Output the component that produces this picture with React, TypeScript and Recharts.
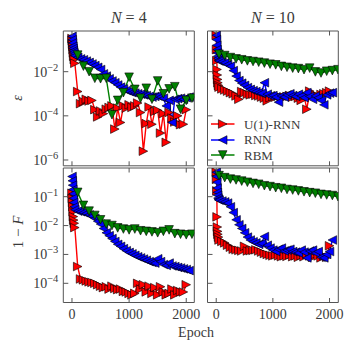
import { LineChart, Line, XAxis, YAxis, Legend } from 'recharts'

const W = 354
const H = 351
const SERIF = '"Liberation Serif", "DejaVu Serif", serif'
const INK = '#3a3a3a'
const FRAME = '#555555'
const RED = '#ff0000'
const BLUE = '#0000ff'
const GREEN = '#008000'
const R = 4.3 // half marker size

// x values (epochs)
const epochsU1 = [0, 5, 10, 15, 20, 25, 30, 40, 50, 100, 150, 200, 250, 300, 350, 400, 450, 500, 550, 600, 650, 700, 750, 800, 850, 900, 950, 1000, 1050, 1100, 1150, 1200, 1250, 1300, 1350, 1400, 1450, 1500, 1550, 1600, 1650, 1700, 1750, 1800, 1850, 1900, 1950, 2000]
const epochsRnn = [0, 5, 10, 15, 20, 25, 30, 40, 50, 100, 150, 200, 250, 300, 350, 400, 450, 500, 550, 600, 650, 700, 750, 800, 850, 900, 950, 1000, 1050, 1100, 1150, 1200, 1250, 1300, 1350, 1400, 1450, 1500, 1550, 1600, 1650, 1700, 1750, 1800, 1850, 1900, 1950, 2000, 2050]
const epochsRbmN4 = [100, 200, 300, 400, 500, 600, 700, 800, 900, 1000, 1100, 1200, 1300, 1400, 1500, 1600, 1700, 1800, 1900, 2000, 2100]
const epochsRbmN10 = [50, 150, 250, 350, 450, 550, 650, 750, 850, 950, 1050, 1150, 1250, 1350, 1450, 1550, 1650, 1750, 1850, 1950, 2050, 2150]

// log10 of the error epsilon
const epsU1N4 = [-0.5, -0.6, -0.75, -0.85, -1.0, -1.15, -1.3, -1.45, -1.62, -2.9, -3.45, -3.35, -3.25, -3.33, -3.3, -3.72, -4.05, -3.78, -3.9, -3.7, -3.62, -3.55, -4.6, -3.65, -4.3, -3.55, -3.65, -3.5, -3.62, -3.55, -3.42, -3.85, -5.6, -4.35, -3.6, -4.38, -3.8, -3.75, -4.78, -3.9, -5.2, -3.85, -4.1, -4.28, -4.0, -4.4, -4.38, -3.72]
const epsRnnN4 = [-0.4, -0.55, -0.7, -0.85, -0.95, -1.05, -1.12, -1.2, -1.28, -1.35, -1.42, -1.46, -1.52, -1.58, -1.65, -1.72, -1.8, -1.9, -2.1, -2.2, -2.32, -2.42, -2.5, -2.6, -2.7, -2.78, -2.85, -2.9, -2.95, -2.97, -3.0, -3.02, -3.05, -3.08, -3.12, -3.15, -3.12, -3.1, -3.15, -3.2, -3.55, -3.3, -4.3, -3.25, -3.22, -3.2, -3.25, -3.18, -3.15]
const epsRbmN4 = [-1.25, -1.75, -2.0, -2.3, -2.32, -2.3, -3.95, -3.3, -2.95, -2.25, -2.8, -3.2, -2.75, -3.25, -2.42, -3.0, -2.78, -2.68, -3.7, -3.3, -3.2]
const epsU1N10 = [-0.35, -1.0, -1.5, -1.9, -2.15, -2.35, -2.5, -2.62, -2.7, -2.78, -2.83, -2.88, -2.95, -3.0, -3.1, -3.25, -2.9, -2.95, -3.02, -3.05, -3.02, -3.08, -3.1, -3.15, -3.2, -3.32, -3.18, -3.12, -3.15, -3.1, -3.18, -3.15, -3.12, -3.08, -3.15, -3.12, -3.2, -3.3, -3.1, -3.7, -2.88, -3.08, -3.05, -3.12, -3.03, -3.0, -2.95, -2.88]
const epsRnnN10 = [-0.35, -0.55, -0.8, -1.0, -1.15, -1.3, -1.4, -1.48, -1.52, -1.55, -1.6, -1.68, -1.75, -1.95, -2.2, -2.4, -2.52, -2.62, -2.72, -2.8, -2.86, -2.9, -2.95, -2.98, -2.5, -3.02, -3.1, -3.08, -3.15, -3.38, -3.1, -3.15, -3.05, -3.0, -3.08, -3.12, -3.02, -3.1, -3.18, -2.95, -3.12, -3.25, -3.1, -3.18, -3.3, -3.5, -3.05, -2.97, -2.95]
const epsRbmN10 = [-1.21, -1.27, -1.36, -1.42, -1.46, -1.51, -1.54, -1.57, -1.61, -1.66, -1.69, -1.76, -1.8, -1.84, -1.86, -1.91, -1.84, -2.01, -2.06, -1.98, -1.95, -1.91]

// log10 of the infidelity 1 - F
const infU1N4 = [-0.88, -1.06, -1.2, -1.35, -1.52, -1.69, -1.81, -1.92, -2.07, -3.42, -3.85, -3.88, -3.92, -3.95, -3.97, -4.0, -4.05, -4.1, -4.15, -4.12, -4.2, -4.1, -4.18, -4.22, -4.2, -4.28, -4.3, -4.35, -4.4, -4.35, -4.0, -4.2, -4.05, -4.3, -4.1, -4.35, -4.15, -4.4, -4.12, -4.3, -4.4, -4.35, -4.2, -4.4, -4.25, -4.3, -4.3, -4.05]
const infRnnN4 = [-0.3, -0.45, -0.6, -0.75, -0.9, -1.05, -1.2, -1.35, -1.45, -1.5, -1.52, -1.55, -1.58, -1.63, -1.68, -1.75, -1.85, -1.95, -2.1, -2.25, -2.35, -2.45, -2.55, -2.65, -2.72, -2.8, -2.87, -2.93, -2.98, -3.03, -3.08, -3.12, -3.16, -3.2, -3.25, -3.28, -3.3, -3.15, -3.25, -3.35, -3.38, -3.3, -3.4, -3.42, -3.45, -3.47, -3.5, -3.52, -3.56]
const infRbmN4 = [-0.85, -1.3, -1.5, -1.65, -1.8, -1.95, -2.0, -2.08, -2.12, -2.15, -2.12, -2.18, -2.2, -2.22, -2.25, -2.2, -2.15, -2.28, -2.3, -2.32, -2.3]
const infU1N10 = [-0.15, -0.4, -0.8, -1.7, -2.05, -2.2, -2.3, -2.4, -2.5, -2.55, -2.6, -2.68, -2.75, -2.82, -2.84, -2.86, -2.88, -2.72, -2.88, -2.87, -2.86, -2.84, -2.88, -2.92, -2.97, -3.0, -3.03, -3.05, -3.02, -3.05, -3.08, -3.05, -3.07, -3.02, -3.08, -3.05, -3.1, -3.04, -3.08, -3.0, -3.05, -3.1, -3.0, -3.05, -3.12, -3.05, -3.1, -2.7]
const infRnnN10 = [-0.15, -0.3, -0.5, -0.7, -0.85, -0.95, -1.05, -1.1, -1.12, -1.15, -1.18, -1.22, -1.35, -1.55, -1.8, -1.97, -2.1, -2.25, -2.4, -2.5, -2.56, -2.6, -2.65, -2.62, -2.38, -2.68, -2.78, -2.85, -2.9, -2.82, -2.78, -2.88, -2.85, -2.82, -2.9, -2.92, -2.95, -2.85, -2.92, -3.12, -2.88, -2.85, -2.95, -2.9, -3.1, -3.12, -3.0, -2.9, -2.5]
const infRbmN10 = [-0.27, -0.34, -0.39, -0.42, -0.46, -0.5, -0.54, -0.57, -0.62, -0.65, -0.69, -0.71, -0.75, -0.77, -0.8, -0.83, -0.86, -0.88, -0.92, -0.94, -0.96, -1.0]

const xTicks = [0, 1000, 2000]
const epsTicks = [1e-6, 1e-4, 1e-2]
const infTicks = [1e-4, 1e-3, 1e-2, 1e-1]

type Shape = 'right' | 'left' | 'down'
const SHAPES: Record<string, Shape> = { 'U(1)-RNN': 'right', RNN: 'left', RBM: 'down' }
const LEGEND_ORDER = ['U(1)-RNN', 'RNN', 'RBM']

const pts = (xs: number[], logs: number[]) => logs.map((v, i) => ({ epoch: xs[i], value: Math.pow(10, v) }))

function tri(cx: number, cy: number, shape: Shape, r: number) {
  if (shape === 'right') return `M${cx + r},${cy}L${cx - r},${cy - r}L${cx - r},${cy + r}Z`
  if (shape === 'left') return `M${cx - r},${cy}L${cx + r},${cy - r}L${cx + r},${cy + r}Z`
  return `M${cx},${cy + r}L${cx - r},${cy - r}L${cx + r},${cy - r}Z`
}

const makeDot = (color: string, shape: Shape) => (p: any) => {
  if (p.cx == null || p.cy == null || isNaN(p.cx) || isNaN(p.cy)) return <g key={p.index} />
  return <path key={p.index} d={tri(p.cx, p.cy, shape, R)} fill={color} stroke="#000" strokeWidth={0.6} />
}

const xTick = (dir: number, showLabel: boolean) => (p: any) => (
  <g>
    <line x1={p.x} x2={p.x} y1={p.y} y2={p.y + dir * 4.5} stroke={FRAME} strokeWidth={1} />
    {showLabel && (
      <text x={p.x} y={p.y + 16} textAnchor="middle" fontFamily={SERIF} fontSize={14} fill={INK}>
        {p.payload.value}
      </text>
    )}
  </g>
)

const yTick = (showLabel: boolean) => (p: any) => {
  const exp = Math.round(Math.log10(p.payload.value))
  return (
    <g>
      <line x1={p.x} x2={p.x + 5} y1={p.y} y2={p.y} stroke={FRAME} strokeWidth={1} />
      {showLabel && (
        <text x={p.x - 5} y={p.y + 5} textAnchor="end" fontFamily={SERIF} fontSize={14} fill={INK}>
          10<tspan dy={-6} fontSize={10.5}>{'\u2212' + Math.abs(exp)}</tspan>
        </text>
      )}
    </g>
  )
}

function LegendBox({ payload }: any) {
  const items = [...(payload || [])].sort((a: any, b: any) => LEGEND_ORDER.indexOf(a.value) - LEGEND_ORDER.indexOf(b.value))
  return (
    <div style={{ fontFamily: SERIF, fontSize: 13, color: INK }}>
      {items.map((e: any) => (
        <div key={e.value} style={{ display: 'flex', alignItems: 'center', height: 15.5 }}>
          <svg width={33} height={12} style={{ flex: 'none' }}>
            <line x1={0} x2={23.5} y1={6} y2={6} stroke={e.color} strokeWidth={1.5} />
            <path d={tri(11.7, 6, SHAPES[e.value], R)} fill={e.color} stroke="#000" strokeWidth={0.6} />
          </svg>
          <span style={{ lineHeight: '15.5px', whiteSpace: 'nowrap' }}>{e.value}</span>
        </div>
      ))}
    </div>
  )
}

interface Series { name: string; color: string; data: { epoch: number; value: number }[] }
interface Box { l: number; t: number; r: number; b: number }

// axes need a positive size to be drawn, so they get 1px and the margins shrink by 1px
const AX = 1

function Panel({ box, xDomain, yDomain, yTicks, xLabels, yLabels, series, legend }: {
  box: Box; xDomain: number[]; yDomain: number[]; yTicks: number[]; xLabels: boolean; yLabels: boolean; series: Series[]; legend?: boolean
}) {
  const margin = { left: box.l - AX, top: box.t - AX, right: W - box.r - AX, bottom: H - box.b - AX }
  return (
    <div style={{ position: 'absolute', left: 0, top: 0 }}>
      <LineChart width={W} height={H} margin={margin}>
        <XAxis xAxisId="b" type="number" dataKey="epoch" domain={xDomain} allowDataOverflow ticks={xTicks} interval={0}
          height={AX} tickSize={0} tickMargin={0} tickLine={false} axisLine={{ stroke: FRAME }} tick={xTick(-1, xLabels)} />
        <XAxis xAxisId="t" orientation="top" type="number" dataKey="epoch" domain={xDomain} allowDataOverflow ticks={xTicks} interval={0}
          height={AX} tickSize={0} tickMargin={0} tickLine={false} axisLine={{ stroke: FRAME }} tick={xTick(1, false)} />
        <YAxis yAxisId="l" type="number" scale="log" domain={yDomain} allowDataOverflow ticks={yTicks} interval={0}
          width={AX} tickSize={0} tickMargin={0} tickLine={false} axisLine={{ stroke: FRAME }} tick={yTick(yLabels)} />
        <YAxis yAxisId="r" orientation="right" type="number" scale="log" domain={yDomain} allowDataOverflow
          width={AX} tick={false} tickLine={false} axisLine={{ stroke: FRAME }} />
        {series.map((s) => (
          <Line key={s.name} name={s.name} data={s.data} dataKey="value" xAxisId="b" yAxisId="l" type="linear"
            stroke={s.color} strokeWidth={1.4} dot={makeDot(s.color, SHAPES[s.name])} activeDot={false}
            isAnimationActive={false} />
        ))}
        {legend && (
          <Legend layout="vertical" align="center" verticalAlign="middle" content={<LegendBox />}
            wrapperStyle={{ left: 211, top: 116.5, width: 'auto' }} />
        )}
      </LineChart>
    </div>
  )
}

const TL: Box = { l: 63.3, t: 31, r: 194.3, b: 165.8 }
const TR: Box = { l: 207.5, t: 31, r: 338.3, b: 165.8 }
const BL: Box = { l: 63.3, t: 168, r: 194.3, b: 302.5 }
const BR: Box = { l: 207.5, t: 168, r: 338.3, b: 302.5 }
const xDomL = [-152, 2141]
const xDomR = [-154, 2155]
const epsDom = [Math.pow(10, -6.263), Math.pow(10, -0.157)]
const infDom = [Math.pow(10, -4.665), Math.pow(10, -0.006)]

export default function App() {
  const epsN4: Series[] = [
    { name: 'U(1)-RNN', color: RED, data: pts(epochsU1, epsU1N4) },
    { name: 'RNN', color: BLUE, data: pts(epochsRnn, epsRnnN4) },
    { name: 'RBM', color: GREEN, data: pts(epochsRbmN4, epsRbmN4) },
  ]
  const epsN10: Series[] = [
    { name: 'U(1)-RNN', color: RED, data: pts(epochsU1, epsU1N10) },
    { name: 'RNN', color: BLUE, data: pts(epochsRnn, epsRnnN10) },
    { name: 'RBM', color: GREEN, data: pts(epochsRbmN10, epsRbmN10) },
  ]
  const infN4: Series[] = [
    { name: 'U(1)-RNN', color: RED, data: pts(epochsU1, infU1N4) },
    { name: 'RNN', color: BLUE, data: pts(epochsRnn, infRnnN4) },
    { name: 'RBM', color: GREEN, data: pts(epochsRbmN4, infRbmN4) },
  ]
  const infN10: Series[] = [
    { name: 'U(1)-RNN', color: RED, data: pts(epochsU1, infU1N10) },
    { name: 'RNN', color: BLUE, data: pts(epochsRnn, infRnnN10) },
    { name: 'RBM', color: GREEN, data: pts(epochsRbmN10, infRbmN10) },
  ]

  return (
    <div style={{ position: 'absolute', left: 0, top: 0, width: W, height: H, background: '#fff', overflow: 'hidden' }}>
      <Panel box={TL} xDomain={xDomL} yDomain={epsDom} yTicks={epsTicks} xLabels={false} yLabels series={epsN4} />
      <Panel box={TR} xDomain={xDomR} yDomain={epsDom} yTicks={epsTicks} xLabels={false} yLabels={false} series={epsN10} legend />
      <Panel box={BL} xDomain={xDomL} yDomain={infDom} yTicks={infTicks} xLabels yLabels series={infN4} />
      <Panel box={BR} xDomain={xDomR} yDomain={infDom} yTicks={infTicks} xLabels yLabels={false} series={infN10} />
      <svg width={W} height={H} style={{ position: 'absolute', left: 0, top: 0, pointerEvents: 'none' }}>
        <g fontFamily={SERIF} fill={INK}>
          <text x={128.8} y={23} textAnchor="middle" fontSize={16}>
            <tspan fontStyle="italic">N</tspan> = 4
          </text>
          <text x={272.9} y={23} textAnchor="middle" fontSize={16}>
            <tspan fontStyle="italic">N</tspan> = 10
          </text>
          <text x={22} y={98} textAnchor="middle" fontSize={14} fontStyle="italic" transform="rotate(-90 22 98)">ε</text>
          <text x={23} y={232} textAnchor="middle" fontSize={15} transform="rotate(-90 23 232)">
            1 − <tspan fontStyle="italic">F</tspan>
          </text>
          <text x={196} y={337} textAnchor="middle" fontSize={14}>Epoch</text>
        </g>
      </svg>
    </div>
  )
}
